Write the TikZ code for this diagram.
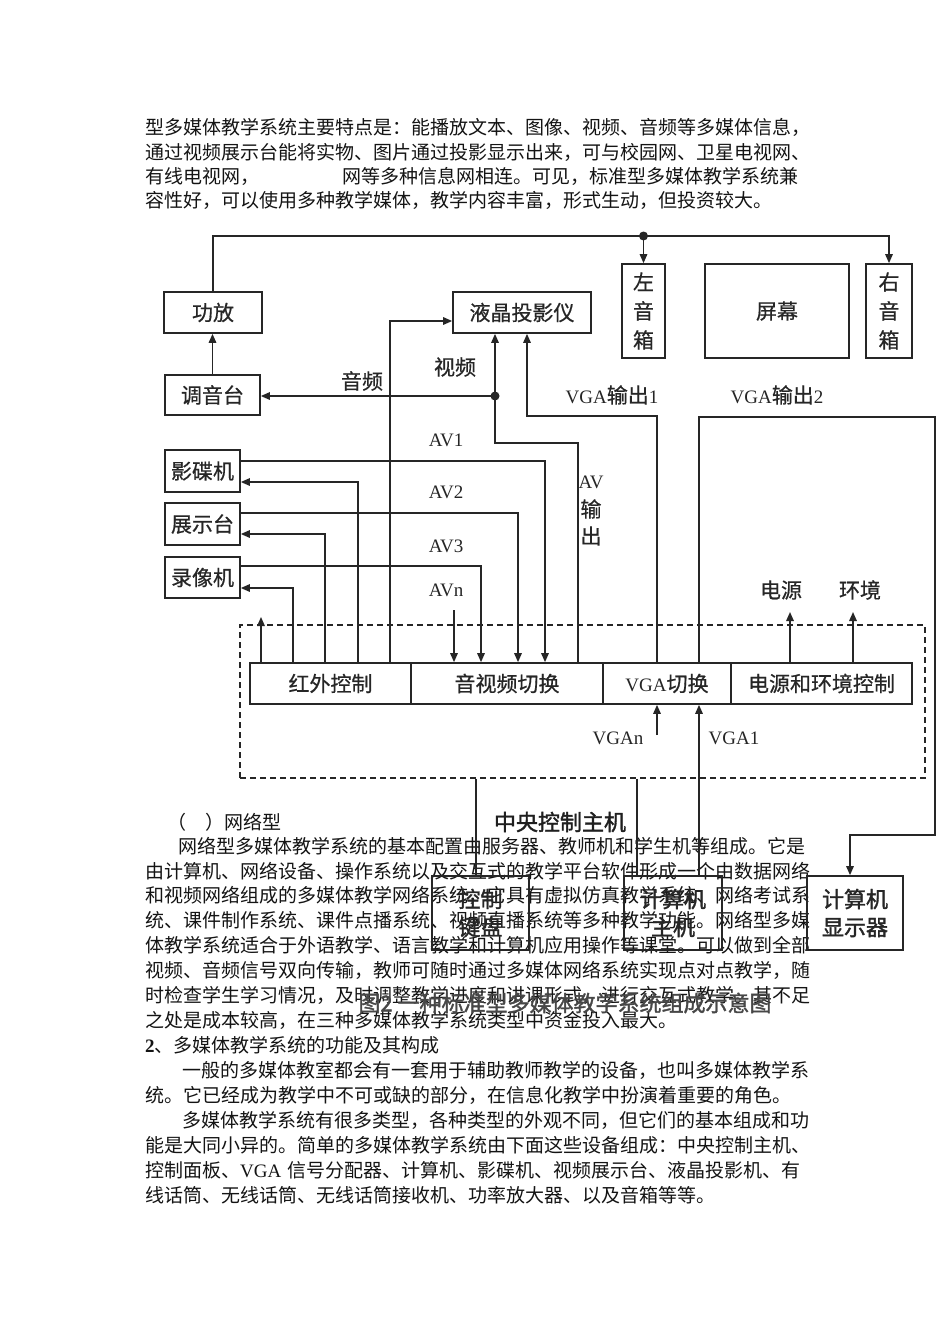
\documentclass[tikz,border=0pt]{standalone}
\usepackage{fontspec}
\setmainfont{Liberation Serif}
\newfontfamily\cjk{Noto Sans CJK SC}
\newfontfamily\cjkd[FakeBold=0.6]{Noto Sans CJK SC}
\newfontfamily\cjkb[FakeBold=1.6]{Noto Sans CJK SC}
\newfontfamily\latf{Liberation Serif}
\usetikzlibrary{arrows.meta}
\XeTeXlinebreaklocale "zh"
\XeTeXlinebreakskip=0pt plus 2pt minus 0.5pt
\newcommand\bodyf{\cjk\fontsize{19pt}{24pt}\selectfont}
\newcommand\dfont{\cjkd\fontsize{21pt}{26pt}\selectfont}
\newcommand\bfont{\cjkb\fontsize{22pt}{28pt}\selectfont}
\newcommand\lat[1]{{\latf\fontsize{19pt}{26pt}\selectfont #1}}
\newcommand\jst{\parindent=0pt\parfillskip=0pt\relax}
\begin{document}
\begin{tikzpicture}[x=1pt,y=-1pt,
  bodyj/.style={anchor=base west, inner sep=0pt, text width=665pt, font=\bodyf, text=black!92},
  bodyl/.style={anchor=base west, inner sep=0pt, font=\bodyf, text=black!92},
  dbox/.style={draw=black!85, line width=1.7pt, inner sep=0pt, font=\dfont, text=black!85},
  lbl/.style={inner sep=0pt, font=\dfont, text=black!85},
  boldlbl/.style={inner sep=0pt, font=\bfont, text=black!88},
  conn/.style={draw=black!85, line width=1.5pt},
  arr/.style={conn, -{Triangle[length=9pt,width=7.5pt]}},
  dot/.style={fill=black!85}]
\useasboundingbox (0,0) rectangle (950,1344);
\fill[white] (0,0) rectangle (950,1344);

% ---------- body text, top ----------
\node[bodyj] (t1) at (145,134) {\jst 型多媒体教学系统主要特点是：能播放文本、图像、视频、音频等多媒体信息，};
\node[bodyj] (t2) at (145,159) {\jst 通过视频展示台能将实物、图片通过投影显示出来，可与校园网、卫星电视网、};
\node[bodyl] (t3a) at (145,183) {有线电视网，};
\node[bodyl] (t3b) at (342,183) {网等多种信息网相连。可见，标准型多媒体教学系统兼};
\node[bodyl] (t4) at (145,207) {容性好，可以使用多种教学媒体，教学内容丰富，形式生动，但投资较大。};

% ---------- body text, bottom ----------
\node[bodyl] (n0) at (167,829) {（　）网络型};
\node[bodyj] (n1) at (145,853) {\jst\hspace*{33pt}网络型多媒体教学系统的基本配置由服务器、教师机和学生机等组成。它是};
\node[bodyj] (n2) at (145,878) {\jst 由计算机、网络设备、操作系统以及交互式的教学平台软件形成一个由数据网络};
\node[bodyj] (n3) at (145,902) {\jst 和视频网络组成的多媒体教学网络系统，它具有虚拟仿真教学系统、网络考试系};
\node[bodyj] (n4) at (145,927) {\jst 统、课件制作系统、课件点播系统、视频直播系统等多种教学功能。网络型多媒};
\node[bodyj] (n5) at (145,952) {\jst 体教学系统适合于外语教学、语言教学和计算机应用操作等课堂。可以做到全部};
\node[bodyj] (n6) at (145,977) {\jst 视频、音频信号双向传输，教师可随时通过多媒体网络系统实现点对点教学，随};
\node[bodyj] (n7) at (145,1002) {\jst 时检查学生学习情况，及时调整教学进度和讲课形式，进行交互式教学。其不足};
\node[bodyl] (n8) at (145,1027) {之处是成本较高，在三种多媒体教学系统类型中资金投入最大。};
\node[bodyl] (n9) at (145,1052) {{\latf\bfseries\fontsize{19pt}{19pt}\selectfont 2}、多媒体教学系统的功能及其构成};
\node[bodyj] (n10) at (145,1077) {\jst\hspace*{37pt}一般的多媒体教室都会有一套用于辅助教师教学的设备，也叫多媒体教学系};
\node[bodyl] (n11) at (145,1102) {统。它已经成为教学中不可或缺的部分，在信息化教学中扮演着重要的角色。};
\node[bodyj] (n12) at (145,1127) {\jst\hspace*{37pt}多媒体教学系统有很多类型，各种类型的外观不同，但它们的基本组成和功};
\node[bodyj] (n13) at (145,1152) {\jst 能是大同小异的。简单的多媒体教学系统由下面这些设备组成：中央控制主机、};
\node[bodyj] (n14) at (145,1177) {\jst 控制面板、{\latf VGA} 信号分配器、计算机、影碟机、视频展示台、液晶投影机、有};
\node[bodyl] (n15) at (145,1202) {线话筒、无线话筒、无线话筒接收机、功率放大器、以及音箱等等。};

% ---------- diagram boxes ----------
\node[dbox, minimum width=98, minimum height=41] (gongfang) at (213,312.5) {功放};
\node[dbox, minimum width=138, minimum height=41] (yejing) at (522,312.5) {液晶投影仪};
\node[dbox, minimum width=43, minimum height=94, align=center, font=\cjkd\fontsize{21pt}{29pt}\selectfont] (zuo) at (643.5,311) {左\\音\\箱};
\node[dbox, minimum width=144, minimum height=94] (pingmu) at (777,311) {屏幕};
\node[dbox, minimum width=46, minimum height=94, align=center, font=\cjkd\fontsize{21pt}{29pt}\selectfont] (you) at (889,311) {右\\音\\箱};
\node[dbox, minimum width=95, minimum height=40] (tiaoyin) at (212.5,395) {调音台};
\node[dbox, minimum width=75, minimum height=42] (yingdie) at (202.5,471) {影碟机};
\node[dbox, minimum width=75, minimum height=42] (zhanshi) at (202.5,524) {展示台};
\node[dbox, minimum width=75, minimum height=41] (luxiang) at (202.5,577.5) {录像机};

\node[draw=black!85, line width=1.6pt, dash pattern=on 6pt off 4pt, minimum width=685, minimum height=153, inner sep=0pt] (host) at (582.5,701.5) {};
\node[dbox, minimum width=161, minimum height=41] (hongwai) at (330.5,683.5) {红外控制};
\node[dbox, minimum width=192, minimum height=41] (yinshi) at (507,683.5) {音视频切换};
\node[dbox, minimum width=128, minimum height=41] (vga) at (667,683.5) {\lat{VGA}切换};
\node[dbox, minimum width=181, minimum height=41] (dianyuan) at (821.5,683.5) {电源和环境控制};

\node[dbox, font=\bfont, minimum width=97, minimum height=74, align=center] (kongzhi) at (480.5,913) {控制\\键盘};
\node[dbox, font=\bfont, minimum width=98, minimum height=74, align=center] (zhuji) at (673,913) {计算机\\主机};
\node[dbox, font=\bfont, minimum width=96, minimum height=74, align=center] (xianshi) at (855,913) {计算机\\显示器};

% ---------- labels ----------
\node[lbl] (lyp) at (362,381) {音频};
\node[lbl] (lsp) at (455,367) {视频};
\node[lbl] (lvga1) at (612,395) {\lat{VGA}输出\lat{1}};
\node[lbl] (lvga2) at (777,395) {\lat{VGA}输出\lat{2}};
\node[lbl] (lav1) at (446,440) {\lat{AV1}};
\node[lbl] (lav2) at (446,492) {\lat{AV2}};
\node[lbl] (lav3) at (446,546) {\lat{AV3}};
\node[lbl] (lavn) at (446,590) {\lat{AVn}};
\node[lbl] (lavo1) at (591,482) {\lat{AV}};
\node[lbl] (lavo2) at (591,509) {输};
\node[lbl] (lavo3) at (591,536) {出};
\node[lbl] (lpw) at (781,590) {电源};
\node[lbl] (lenv) at (860,590) {环境};
\node[lbl] (lvgan) at (618,738) {\lat{VGAn}};
\node[lbl] (lvgaone) at (734,738) {\lat{VGA1}};
\node[boldlbl] (lhost) at (560,822) {中央控制主机};
\node[boldlbl, text=black!72] (cap) at (565,1003) {图2 一种标准型多媒体教学系统组成示意图};

% ---------- coordinates ----------
\coordinate (busy) at (0,236);
\coordinate (auddot) at (495,396);
\coordinate (vidc) at (495,443);
\coordinate (avc) at (578,443);
\coordinate (irp) at (390,321);
\coordinate (av1) at (545,461);
\coordinate (av2) at (518,513);
\coordinate (av3) at (481,566);
\coordinate (avn) at (454,610);
\coordinate (ir1) at (358,482);
\coordinate (ir2) at (325,534);
\coordinate (ir3) at (293,588);
\coordinate (irup) at (261,617);
\coordinate (v1c) at (657,416);
\coordinate (v1d) at (527,416);
\coordinate (v2a) at (699,417);
\coordinate (v2b) at (935,417);
\coordinate (v2c) at (935,835);
\coordinate (v2d) at (850,835);
\coordinate (vgan) at (657,735);
\coordinate (pw) at (790,612);
\coordinate (env) at (853,612);
\coordinate (k1) at (476,0);
\coordinate (k2) at (637,0);

% ---------- connectors ----------
\draw[arr] (gongfang.north) |- (you.north |- busy) -- (you.north);
\draw[arr] (zuo.north |- busy) -- (zuo.north);
\fill[dot] (zuo.north |- busy) circle[radius=4.5pt];
\draw[arr] (tiaoyin.north) -- (gongfang.south -| tiaoyin.north);

\draw[arr] (yinshi.north -| avc) -- (avc) -- (vidc) -- (yejing.south -| vidc);
\draw[arr] (auddot) -- (tiaoyin.east |- auddot);
\fill[dot] (auddot) circle[radius=4.5pt];
\draw[arr] (hongwai.north -| irp) -- (irp) -- (yejing.west |- irp);

\draw[arr] (yingdie.east |- av1) -- (av1) -- (yinshi.north -| av1);
\draw[arr] (zhanshi.east |- av2) -- (av2) -- (yinshi.north -| av2);
\draw[arr] (luxiang.east |- av3) -- (av3) -- (yinshi.north -| av3);
\draw[arr] (avn) -- (yinshi.north -| avn);

\draw[arr] (hongwai.north -| ir1) -- (ir1) -- (yingdie.east |- ir1);
\draw[arr] (hongwai.north -| ir2) -- (ir2) -- (zhanshi.east |- ir2);
\draw[arr] (hongwai.north -| ir3) -- (ir3) -- (luxiang.east |- ir3);
\draw[arr] (hongwai.north -| irup) -- (irup);

\draw[arr] (vga.north -| v1c) -- (v1c) -- (v1d) -- (yejing.south -| v1d);
\draw[arr] (vga.north -| v2a) -- (v2a) -- (v2b) -- (v2c) -- (v2d) -- (xianshi.north -| v2d);
\draw[arr] (vgan) -- (vga.south -| vgan);
\draw[arr] (zhuji.north -| v2a) -- (vga.south -| v2a);

\draw[arr] (dianyuan.north -| pw) -- (pw);
\draw[arr] (dianyuan.north -| env) -- (env);

\draw[conn] (host.south -| k1) -- (kongzhi.north -| k1);
\draw[conn] (host.south -| k2) -- (zhuji.north -| k2);
\end{tikzpicture}
\end{document}
